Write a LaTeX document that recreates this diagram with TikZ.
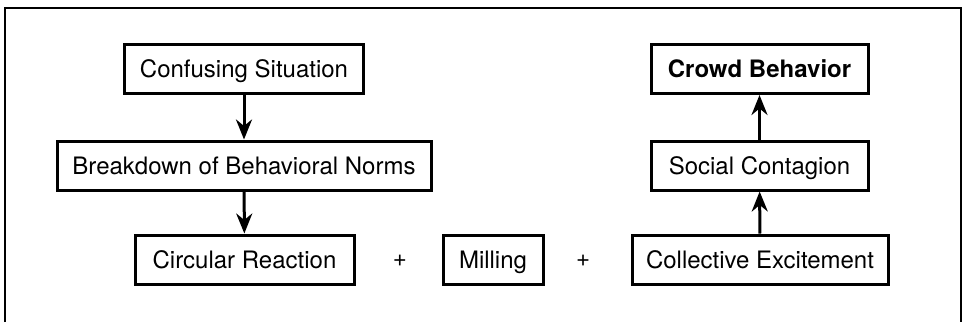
\documentclass[tikz,border=0pt]{standalone}
\usepackage{fontspec}
\setmainfont{TeX Gyre Heros}
\usepackage{tikz}
\usetikzlibrary{arrows.meta}

\begin{document}
\begin{tikzpicture}[x=0.5pt, y=-0.5pt,
    every node/.style={font=\fontsize{12}{14}\selectfont},
    stagebox/.style={draw, line width=1.5pt, inner sep=0pt, minimum height=24.5pt,
        text height=8.6pt, text depth=0pt},
    leadsto/.style={line width=1.5pt, -{Stealth[length=10pt, width=8pt]}}]
    \useasboundingbox (0,0) rectangle (963,322);
    \draw[line width=1.4pt] (5,322) -- (5,8) -- (961,8) -- (961,322);
    % left column
    \node[stagebox, minimum width=119.5pt] (confusing) at (244,69) {Confusing Situation};
    \node[stagebox, minimum width=187pt] (breakdown) at (244,165.5) {Breakdown of Behavioral Norms};
    \node[stagebox, minimum width=109.5pt] (circular) at (244.5,259.5) {Circular Reaction};
    % bottom row
    \node (plusa) at (400,261) {+};
    \node[stagebox, minimum width=50pt] (milling) at (493,259.5) {Milling};
    \node (plusb) at (583,261) {+};
    % right column
    \node[stagebox, minimum width=128pt] (collective) at (760,259.5) {Collective Excitement};
    \node[stagebox, minimum width=108.5pt] (contagion) at (759.5,165.5) {Social Contagion};
    \node[stagebox, minimum width=108.5pt, font=\fontsize{12}{14}\selectfont\bfseries] (crowd) at (759.5,69) {Crowd Behavior};
    \draw[leadsto] (confusing) -- (breakdown);
    \draw[leadsto] (breakdown) -- (circular);
    \draw[leadsto] (collective) -- (contagion);
    \draw[leadsto] (contagion) -- (crowd);
\end{tikzpicture}
\end{document}
